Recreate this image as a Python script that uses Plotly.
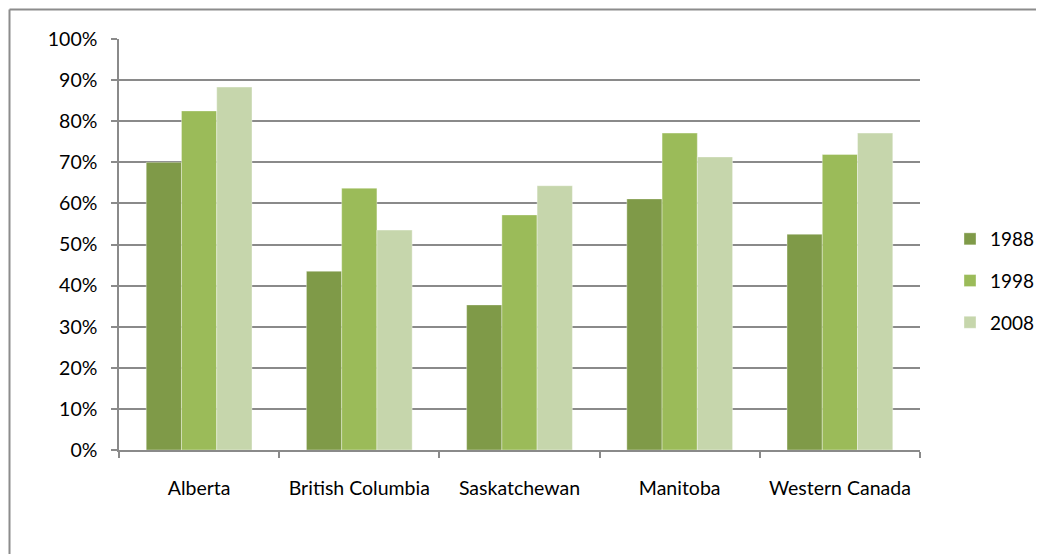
import plotly.graph_objects as go

categories = ["Alberta", "British Columbia", "Saskatchewan", "Manitoba", "Western Canada"]
years = ["1988", "1998", "2008"]
v1988 = [0.700, 0.435, 0.353, 0.611, 0.525]
v1998 = [0.825, 0.637, 0.572, 0.771, 0.719]
v2008 = [0.883, 0.535, 0.643, 0.713, 0.771]
colors = ["#7f9a48", "#9bbb59", "#c6d6ac"]

W, H = 1044, 554
OFF = 8  # page body margin
L, R, T, B = 119, 920, 39, 450  # target plot-area pixels in the screenshot

fig = go.Figure()
for i, (name, vals) in enumerate(zip(years, [v1988, v1998, v2008])):
    fig.add_trace(go.Bar(
        x=categories, y=vals, name=name, legendgroup=name,
        marker=dict(color=colors[i], line=dict(color="rgba(255,255,255,0.6)", width=0.6)),
    ))

font = dict(family="Lato, Open Sans, sans-serif", size=19.5, color="#000000")
lfont = dict(family="Lato, Open Sans, sans-serif", size=19, color="#000000")
grid = "#8a8a8a"

fig.update_layout(
    width=W, height=H,
    margin=dict(l=L - OFF, r=W - R + OFF, t=T - OFF, b=H - B + OFF),
    paper_bgcolor="white", plot_bgcolor="white",
    barmode="group", bargap=0.34, bargroupgap=0,
    font=font,
    showlegend=True,
    legend=dict(x=(950 - L) / (R - L), y=(B - 281) / (B - T), xanchor="left", yanchor="middle",
                font=lfont, tracegroupgap=14, bgcolor="rgba(0,0,0,0)"),
    xaxis=dict(showline=True, linecolor=grid, linewidth=1.5, ticks="outside",
               tickson="boundaries", ticklen=6, tickcolor=grid, tickwidth=1.5,
               ticklabelstandoff=20, showgrid=False, tickfont=font),
    yaxis=dict(range=[0, 1], dtick=0.1, tickformat=".0%", showline=True,
               linecolor=grid, linewidth=1.5, ticks="outside", ticklen=6,
               tickcolor=grid, tickwidth=1.5, showgrid=True, gridcolor=grid,
               gridwidth=1.5, zeroline=False, ticklabelstandoff=10, tickfont=font),
)

# outer chart border (top and left visible); screenshot pixel 9.5 = figure pixel 1.5
pw, ph = R - L, B - T
bx = 9.5
x0 = (bx - L) / pw
y0 = (B - bx) / ph
fig.add_shape(type="line", xref="paper", yref="paper", x0=x0, x1=(W + 20 - L) / pw,
              y0=y0, y1=y0, line=dict(color="#8c8c8c", width=2))
fig.add_shape(type="line", xref="paper", yref="paper", x0=x0, x1=x0,
              y0=y0, y1=(B - H - 20) / ph, line=dict(color="#8c8c8c", width=2))

fig.write_html("out.html")
